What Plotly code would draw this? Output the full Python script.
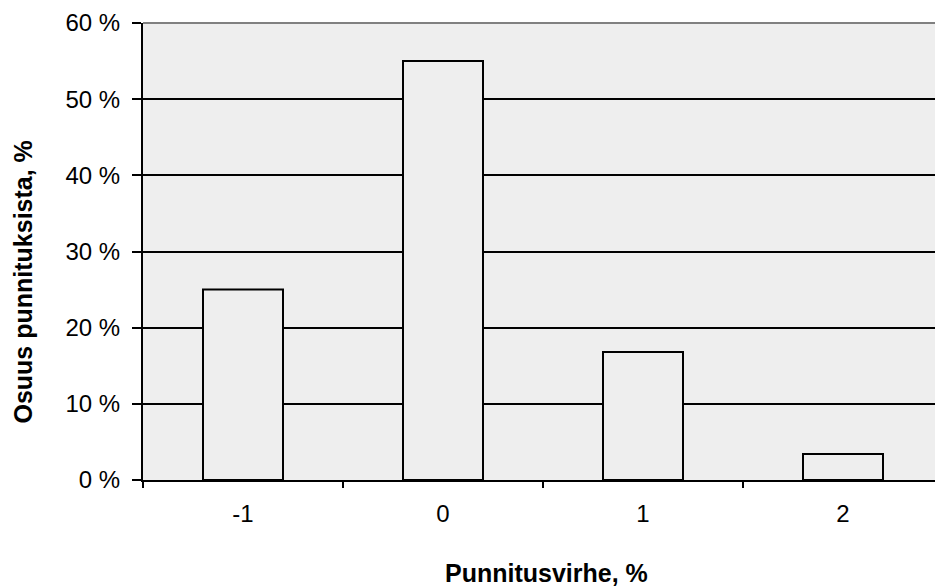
import plotly.graph_objects as go

# Weighing error distribution
categories = ["-1", "0", "1", "2"]
shares = [25.0, 55.0, 16.8, 3.4]
y_ticks = [0, 10, 20, 30, 40, 50, 60]
y_tick_labels = [f"{v} %" for v in y_ticks]

FONT = "Liberation Sans, Arial, sans-serif"

fig = go.Figure(
    go.Bar(
        x=categories,
        y=shares,
        marker=dict(color="#eeeeee", line=dict(color="black", width=2)),
        width=0.4,
    )
)

fig.update_layout(
    width=935,
    height=587,
    margin=dict(l=143, r=0, t=23, b=107),
    paper_bgcolor="white",
    plot_bgcolor="#eeeeee",
    showlegend=False,
    font=dict(family=FONT, color="black", size=24),
)

fig.update_xaxes(
    type="category",
    range=[-0.5, 3.46],
    tickson="boundaries",
    ticks="outside",
    ticklen=6,
    tickwidth=1.5,
    tickcolor="black",
    showline=True,
    linecolor="black",
    linewidth=2,
    showgrid=False,
    tickfont=dict(size=24),
    ticklabelstandoff=11,
)

fig.update_yaxes(
    range=[0, 60],
    tickvals=y_ticks,
    ticktext=y_tick_labels,
    ticks="outside",
    ticklen=9,
    tickwidth=1.5,
    tickcolor="black",
    showline=True,
    linecolor="black",
    linewidth=2,
    showgrid=True,
    gridcolor="black",
    gridwidth=1.5,
    zeroline=False,
    tickfont=dict(size=24),
    ticklabelstandoff=7,
)

# axis titles
fig.add_annotation(
    text="<b>Punnitusvirhe, %</b>", xref="paper", yref="paper",
    x=0.509, y=-0.204, xanchor="center", yanchor="middle",
    showarrow=False, font=dict(size=25),
)
fig.add_annotation(
    text="<b>Osuus punnituksista, %</b>", xref="paper", yref="paper",
    x=-0.151, y=0.433, xanchor="center", yanchor="middle", textangle=-90,
    showarrow=False, font=dict(size=25),
)

# grey frame edge along the top of the plot area
fig.add_shape(
    type="line", xref="paper", yref="paper", x0=0, x1=1, y0=1, y1=1,
    line=dict(color="#808080", width=2), layer="above",
)

fig.write_html("out.html")
